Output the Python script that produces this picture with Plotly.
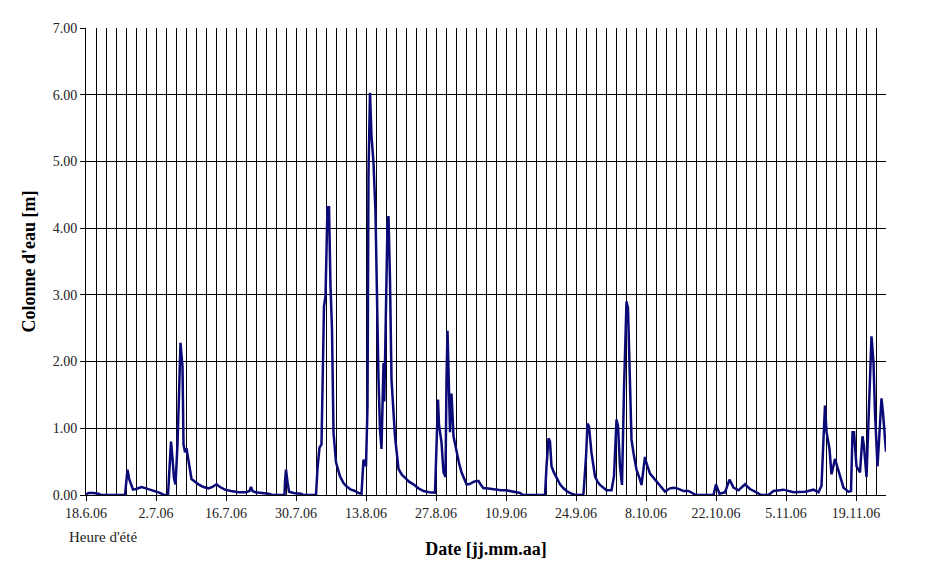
import pandas as pd
import plotly.graph_objects as go

start_date = "2006-06-18"
end_date = "2006-11-25"

# time since 18.6.06 [days]
day_offset = [
    0, 0.5, 1.5, 2.5, 3, 7.8, 8.0, 8.3, 8.6, 9.0, 9.4, 10.0, 11.1, 12.0, 13.0, 13.8, 14.5, 15.1, 15.6,
    16.4, 16.7, 17.0, 17.3, 17.6, 17.9, 18.1, 18.3, 18.6, 18.8, 18.9, 19.1, 19.3, 19.5, 19.8, 20.1, 20.4,
    20.8, 21.1, 21.8, 22.5, 23.5, 24.5, 25.3, 26.1, 26.8, 27.8, 29.0, 30.5, 32.0, 32.7, 33.0, 33.3, 33.9,
    35.0, 36.5, 37.2, 39.7, 39.8, 40.0, 40.3, 40.6, 41.5, 43.0, 43.5, 46.0, 46.3, 46.7, 47.1, 47.3, 47.6,
    47.9, 48.1, 48.3, 48.45, 48.6, 48.9, 49.2, 49.5, 50.0, 50.8, 51.5, 52.1, 53.0, 53.8, 54.5, 55.1, 55.3,
    55.5, 56.0, 56.3, 56.5, 56.8, 57.1, 57.5, 57.9, 58.1, 58.5, 58.8, 59.1, 59.5, 59.65, 59.8, 60.1, 60.3,
    60.5, 60.8, 61.1, 61.8, 62.5, 63.2, 63.8, 64.6, 65.5, 66.5, 67.5, 68.7, 69.8, 70.0, 70.1, 70.4, 70.6,
    71.1, 71.5, 71.9, 72.1, 72.3, 72.5, 72.8, 73.0, 73.1, 73.5, 74.1, 74.6, 75.1, 75.6, 76.1, 76.6, 77.0,
    77.6, 78.1, 78.5, 79.0, 79.5, 80.1, 81.0, 82.1, 83.0, 84.1, 85.5, 86.8, 87.4, 91.8, 92.1, 92.5, 92.8,
    93.1, 93.5, 94.1, 94.8, 95.5, 96.3, 97.1, 97.9, 99.3, 99.5, 100.0, 100.3, 100.6, 101.1, 101.8, 102.3,
    102.8, 103.5, 104.1, 105.1, 105.6, 106.1, 106.4, 106.8, 107.2, 107.6, 107.9, 108.1, 108.4, 108.8,
    109.1, 109.5, 110.1, 110.8, 111.1, 111.8, 112.0, 112.8, 113.8, 114.8, 115.8, 116.8, 117.5, 118.2,
    119.5, 120.5, 121.5, 122.0, 125.5, 126.0, 126.3, 126.7, 127.8, 128.7, 129.5, 130.5, 131.8, 132.8,
    134.1, 135.0, 136.5, 137.5, 139.5, 141.5, 143.8, 145.5, 146.5, 147.1, 147.5, 147.8, 148.1, 148.7,
    149.1, 149.8, 150.0, 150.8, 151.5, 152.5, 153.0, 153.3, 153.6, 154.1, 154.8, 155.3, 155.6, 156.1,
    156.5, 156.8, 157.1, 157.5, 157.8, 158.3, 158.6, 159.1, 159.4, 159.8, 160.0,
]

# water column [m]
water_column = [
    0.01, 0.03, 0.03, 0.02, 0.0, 0.0, 0.15, 0.38, 0.25, 0.15, 0.08, 0.09, 0.12, 0.10, 0.08, 0.06, 0.04, 0.02, 0.0,
    0.0, 0.5, 0.8, 0.55, 0.25, 0.16, 0.4, 0.76, 1.5, 2.1, 2.28, 2.1, 1.93, 0.76, 0.64, 0.7, 0.55,
    0.35, 0.24, 0.2, 0.16, 0.12, 0.10, 0.12, 0.16, 0.12, 0.08, 0.06, 0.04, 0.04, 0.06, 0.12, 0.06, 0.04,
    0.03, 0.02, 0.0, 0.0, 0.2, 0.38, 0.2, 0.05, 0.03, 0.02, 0.0, 0.0, 0.4, 0.71, 0.76, 1.73, 2.83,
    2.98, 3.5, 4.33, 4.15, 4.33, 3.13, 2.48, 0.94, 0.49, 0.28, 0.18, 0.13, 0.08, 0.06, 0.03, 0.02, 0.3,
    0.53, 0.43, 1.33, 4.83, 6.03, 5.38, 4.98, 4.23, 3.33, 1.73, 0.98, 0.69, 1.98, 1.4, 1.98, 3.5, 4.08,
    4.18, 3.23, 1.73, 0.88, 0.39, 0.3, 0.26, 0.2, 0.16, 0.1, 0.06, 0.04, 0.035, 0.5, 1.03, 1.43, 1.05,
    0.79, 0.34, 0.27, 1.73, 2.46, 1.88, 0.94, 1.48, 1.52, 0.88, 0.64, 0.48, 0.34, 0.24, 0.16, 0.16, 0.18,
    0.2, 0.21, 0.21, 0.15, 0.1, 0.1, 0.09, 0.08, 0.07, 0.07, 0.05, 0.03, 0.0, 0.0, 0.43, 0.85, 0.8,
    0.43, 0.35, 0.25, 0.16, 0.1, 0.05, 0.02, 0.0, 0.0, 0.02, 0.57, 1.07, 1.03, 0.63, 0.28, 0.2,
    0.15, 0.1, 0.07, 0.07, 0.28, 1.13, 1.03, 0.43, 0.15, 1.58, 2.53, 2.9, 2.8, 1.73,
    0.83, 0.63, 0.38, 0.23, 0.15, 0.57, 0.5, 0.32, 0.23, 0.15, 0.05, 0.1, 0.11, 0.1,
    0.06, 0.06, 0.02, 0.0, 0.0, 0.16, 0.1, 0.02, 0.04, 0.23, 0.11, 0.07, 0.16, 0.09,
    0.04, 0.0, 0.0, 0.06, 0.08, 0.04, 0.05, 0.08, 0.04, 0.14, 0.84, 1.34, 0.95, 0.69,
    0.31, 0.54, 0.49, 0.29, 0.11, 0.05, 0.06, 0.94, 0.94, 0.43, 0.34, 0.88, 0.73, 0.27,
    1.13, 1.93, 2.38, 1.98, 1.23, 0.43, 0.83, 1.45, 1.23, 0.78, 0.65,
]

tick_dates = ["2006-06-18", "2006-07-02", "2006-07-16", "2006-07-30", "2006-08-13", "2006-08-27",
              "2006-09-10", "2006-09-24", "2006-10-08", "2006-10-22", "2006-11-05", "2006-11-19"]
tick_labels = ["18.6.06", "2.7.06", "16.7.06", "30.7.06", "13.8.06", "27.8.06",
               "10.9.06", "24.9.06", "8.10.06", "22.10.06", "5.11.06", "19.11.06"]

y_tickvals = [0, 1, 2, 3, 4, 5, 6, 7]

x_dates = pd.to_datetime(start_date) + pd.to_timedelta(day_offset, unit="D")

SERIF = "Liberation Serif, Times New Roman, serif"
DAY_MS = 86400000

fig = go.Figure()
fig.add_trace(go.Scatter(
    x=x_dates, y=water_column, mode="lines",
    line=dict(color="#0a0a78", width=2.5),
    showlegend=False,
))

fig.update_layout(
    width=922, height=570,
    margin=dict(l=78, r=44, t=20, b=83, autoexpand=False),
    paper_bgcolor="white", plot_bgcolor="white",
    font=dict(family=SERIF, size=14, color="black"),
    xaxis=dict(
        range=[start_date, end_date],
        tickvals=tick_dates, ticktext=tick_labels,
        showgrid=True, gridcolor="black", gridwidth=1,
        minor=dict(dtick=2 * DAY_MS, tick0=start_date, showgrid=True,
                   gridcolor="black", gridwidth=1, ticks=""),
        showline=True, linecolor="black", linewidth=1,
        ticks="outside", ticklen=5, tickcolor="black",
        tickfont=dict(family=SERIF, size=14, color="#222"),
        title=dict(text="<b>Date [jj.mm.aa]</b>", standoff=22,
                   font=dict(family=SERIF, size=18, color="black")),
        zeroline=False, automargin=False,
    ),
    yaxis=dict(
        range=[0, 7], tickvals=y_tickvals, tickformat=".2f",
        showgrid=True, gridcolor="black", gridwidth=1,
        showline=True, linecolor="black", linewidth=1,
        ticks="outside", ticklen=5, tickcolor="black",
        tickfont=dict(family=SERIF, size=14, color="#222"),
        title=dict(text="<b>Colonne d'eau [m]</b>", standoff=12,
                   font=dict(family=SERIF, size=18, color="black")),
        zeroline=False, automargin=False,
    ),
    annotations=[dict(
        text="Heure d'été", xref="paper", yref="paper",
        x=-0.024, y=-0.09, xanchor="left", yanchor="middle", showarrow=False,
        font=dict(family=SERIF, size=15, color="#222"),
    )],
)

fig.write_html("out.html")
